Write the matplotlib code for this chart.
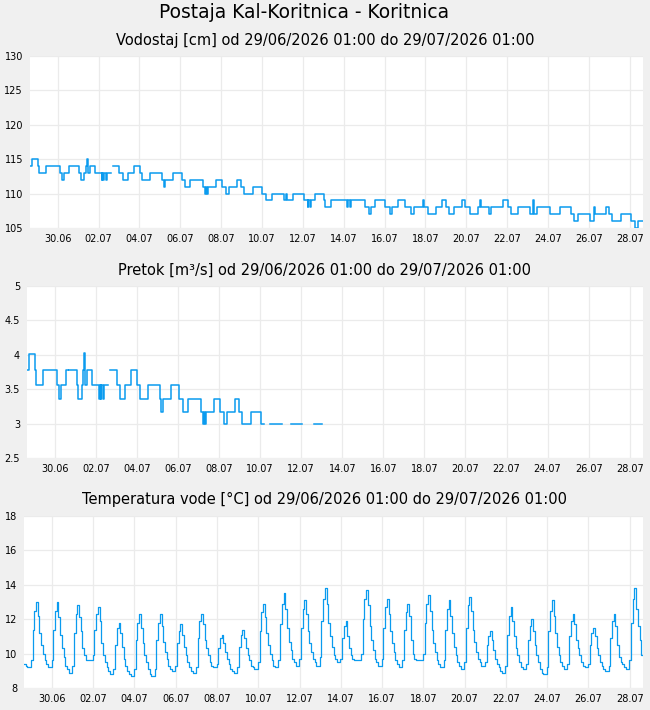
import numpy as np
import matplotlib
matplotlib.use("Agg")
import matplotlib.pyplot as plt

nan = np.nan

# hours since 29/06/2026 01:00 -> value, holds until the next change
vod_t = [0, 2, 9, 11, 19, 35, 37, 40, 46, 58,
         60, 64, 66, 67, 68, 70, 76, 84, 85, 86,
         87, 89, 90, 95, 97, 105, 109, 115, 122, 129,
         132, 141, 155, 157, 159, 168, 178, 182, 188, 203,
         206, 207, 208, 209, 218, 225, 230, 234, 243, 248,
         251, 262, 273, 277, 284, 298, 301, 302, 309, 322,
         326, 327, 329, 330, 335, 345, 347, 354, 372, 374,
         376, 377, 394, 398, 400, 405, 417, 423, 425, 432,
         441, 448, 451, 462, 463, 468, 477, 484, 489, 492,
         498, 507, 511, 517, 526, 529, 530, 539, 542, 555,
         561, 565, 573, 587, 591, 592, 595, 611, 623, 635,
         639, 644, 658, 663, 664, 677, 680, 684, 694, 706,
         711, 714, 720]
vod_v = [114, 115, 114, 113, 114, 113, 112, 113, 114, 113,
         112, 113, 114, 115, 113, 114, 113, 112, 113, 112,
         113, 112, 113, nan, 114, 113, 112, 113, 114, 113,
         112, 113, 112, 111, 112, 113, 112, 111, 112, 111,
         110, 111, 110, 111, 112, 111, 110, 111, 112, 111,
         110, 111, 110, 109, 110, 109, 110, 109, 110, 109,
         108, 109, 108, 109, 110, 109, 108, 109, 108, 109,
         108, 109, 108, 107, 108, 109, 108, 107, 108, 109,
         108, 107, 108, 109, 108, 107, 108, 109, 108, 107,
         108, 109, 108, 107, 108, 109, 108, 107, 108, 109,
         108, 107, 108, 107, 109, 107, 108, 107, 108, 107,
         106, 107, 106, 108, 107, 108, 107, 106, 107, 106,
         105, 106, 106]

pre_t = [0, 2, 9, 11, 19, 35, 37, 40, 46, 47.5,
         49, 58, 60, 64, 66, 67, 68, 70, 76, 84,
         85, 86, 87, 89, 90, 95, 97, 105, 109, 115,
         122, 129, 132, 141, 155, 157, 159, 168, 178, 182,
         188, 203, 206, 207, 208, 209, 218, 225, 230, 234,
         243, 248, 251, 262, 273, 277, 284, 298, 309, 322,
         335, 345]
pre_v = [3.78, 4.01, 3.78, 3.56, 3.78, 3.56, 3.36, 3.56, 3.78, nan,
         3.78, 3.56, 3.36, 3.56, 3.78, 4.02, 3.56, 3.78, 3.56, 3.36,
         3.56, 3.36, 3.56, 3.36, 3.56, nan, 3.78, 3.56, 3.36, 3.56,
         3.78, 3.56, 3.36, 3.56, 3.36, 3.17, 3.36, 3.56, 3.36, 3.17,
         3.36, 3.17, 2.99, 3.17, 2.99, 3.17, 3.36, 3.17, 2.99, 3.17,
         3.36, 3.17, 2.99, 3.17, 2.99, nan, 2.99, nan, 2.99, nan,
         2.99, nan]

# water temperature, one value every 2 hours, one row per day
temp = [
    9.4, 9.3, 9.2, 9.2, 9.6, 11.4, 12.5, 13.0, 12.2, 11.2, 10.5, 10.0,   # 29.06
    9.6, 9.4, 9.2, 9.2, 9.6, 11.4, 12.5, 13.0, 12.1, 11.1, 10.3, 9.8,    # 30.06
    9.3, 9.1, 8.9, 8.9, 9.3, 11.2, 12.3, 12.8, 12.1, 11.3, 10.3, 9.9,    # 01.07
    9.6, 9.6, 9.6, 9.6, 9.9, 11.4, 12.3, 12.7, 11.9, 10.6, 9.9, 9.5,     # 02.07
    9.2, 9.0, 8.8, 8.8, 9.1, 10.5, 11.5, 11.8, 11.2, 10.4, 9.7, 9.3,     # 03.07
    9.0, 8.8, 8.7, 8.7, 9.1, 10.8, 11.8, 12.3, 11.5, 10.6, 9.9, 9.5,     # 04.07
    9.1, 8.8, 8.7, 8.7, 9.1, 10.8, 11.8, 12.3, 11.6, 10.7, 10.1, 9.7,    # 05.07
    9.3, 9.1, 9.0, 9.0, 9.3, 10.6, 11.3, 11.7, 11.1, 10.4, 9.9, 9.5,     # 06.07
    9.2, 9.0, 8.9, 8.9, 9.2, 10.9, 11.9, 12.3, 11.7, 10.8, 10.3, 9.9,    # 07.07
    9.5, 9.3, 9.2, 9.2, 9.4, 10.3, 10.9, 11.1, 10.6, 10.1, 9.7, 9.4,     # 08.07
    9.1, 9.0, 8.9, 8.9, 9.2, 10.4, 11.1, 11.4, 10.9, 10.3, 9.9, 9.6,     # 09.07
    9.3, 9.2, 9.1, 9.1, 9.5, 11.3, 12.4, 12.9, 12.1, 11.2, 10.5, 10.0,   # 10.07
    9.6, 9.3, 9.2, 9.2, 9.6, 11.7, 12.9, 13.5, 12.6, 11.5, 10.7, 10.2,   # 11.07
    9.7, 9.5, 9.3, 9.3, 9.7, 11.5, 12.6, 13.1, 12.3, 11.3, 10.6, 10.1,   # 12.07
    9.7, 9.5, 9.3, 9.3, 9.8, 11.9, 13.2, 13.8, 12.9, 11.8, 11.0, 10.4,   # 13.07
    9.9, 9.7, 9.5, 9.5, 9.7, 10.9, 11.6, 11.9, 11.0, 10.3, 9.9, 9.7,     # 14.07
    9.6, 9.6, 9.6, 9.6, 10.0, 12.0, 13.2, 13.7, 12.8, 11.6, 10.8, 10.2,  # 15.07
    9.7, 9.5, 9.3, 9.3, 9.7, 11.5, 12.7, 13.2, 12.3, 11.3, 10.6, 10.1,   # 16.07
    9.6, 9.4, 9.2, 9.2, 9.6, 11.4, 12.4, 12.9, 12.2, 10.8, 10.0, 9.7,    # 17.07
    9.6, 9.6, 9.6, 9.6, 10.0, 11.8, 12.9, 13.4, 12.5, 11.4, 10.6, 10.1,  # 18.07
    9.6, 9.4, 9.2, 9.2, 9.6, 11.4, 12.6, 13.1, 12.2, 11.2, 10.4, 9.9,    # 19.07
    9.5, 9.3, 9.1, 9.1, 9.5, 11.5, 12.8, 13.3, 12.5, 11.4, 10.7, 10.1,   # 20.07
    9.7, 9.5, 9.3, 9.3, 9.5, 10.5, 11.0, 11.3, 10.8, 10.2, 9.7, 9.4,     # 21.07
    9.2, 9.0, 8.9, 8.9, 9.3, 11.1, 12.2, 12.7, 11.9, 11.0, 10.3, 9.9,    # 22.07
    9.5, 9.2, 9.1, 9.1, 9.4, 10.8, 11.6, 12.0, 11.3, 10.5, 9.9, 9.5,     # 23.07
    9.1, 8.9, 8.8, 8.8, 9.2, 11.3, 12.5, 13.1, 12.2, 11.2, 10.4, 9.9,    # 24.07
    9.5, 9.3, 9.1, 9.1, 9.4, 11.0, 11.9, 12.3, 11.7, 10.8, 10.3, 9.9,    # 25.07
    9.5, 9.3, 9.2, 9.2, 9.4, 10.5, 11.2, 11.5, 11.0, 10.3, 9.9, 9.5,     # 26.07
    9.3, 9.1, 9.0, 9.0, 9.3, 10.9, 11.9, 12.3, 11.6, 10.5, 9.8, 9.5,     # 27.07
    9.4, 9.2, 9.1, 9.1, 9.6, 11.8, 13.2, 13.8, 12.6, 11.6, 10.8, 9.9,    # 28.07
]

tick_labels = ["30.06", "02.07", "04.07", "06.07", "08.07", "10.07", "12.07", "14.07",
               "16.07", "18.07", "20.07", "22.07", "24.07", "26.07", "28.07"]

period = "od 29/06/2026 01:00 do 29/07/2026 01:00"
line_color = "#0a9bef"
grid_color = "#ebebeb"

fig = plt.figure(figsize=(6.5, 7.1), dpi=100, facecolor="#f0f0f0")


def style_axes(ax, ylim, yticks, ylabels):
    ax.set_facecolor("white")
    for s in ax.spines.values():
        s.set_visible(False)
    ax.set_xlim(0, 720)
    ax.set_ylim(*ylim)
    # first labelled gridline sits 32.5 h after the start, then every 2 days
    ax.set_xticks([32.5 + 48 * i for i in range(len(tick_labels))])
    ax.set_xticklabels(tick_labels)
    ax.set_yticks(yticks)
    ax.set_yticklabels(ylabels)
    ax.tick_params(length=0, labelsize=7, colors="black")
    ax.tick_params(axis="x", pad=4)
    ax.tick_params(axis="y", pad=5)
    ax.grid(True, color=grid_color, linewidth=0.9)
    ax.set_axisbelow(True)


# water level
ax1 = fig.add_axes([30 / 650, 1 - 228 / 710, 613 / 650, 172 / 710])
ax1.plot(vod_t, vod_v, drawstyle="steps-post", color=line_color, linewidth=1.1)
style_axes(ax1, (105, 130), [105, 110, 115, 120, 125, 130],
           ["105", "110", "115", "120", "125", "130"])

# discharge
ax2 = fig.add_axes([27 / 650, 1 - 458 / 710, 616 / 650, 172 / 710])
ax2.plot(pre_t, pre_v, drawstyle="steps-post", color=line_color, linewidth=1.1)
style_axes(ax2, (2.5, 5), [2.5, 3, 3.5, 4, 4.5, 5],
           ["2.5", "3", "3.5", "4", "4.5", "5"])

# water temperature
temp_t = list(np.arange(len(temp)) * 2) + [720]
temp_v = temp + [temp[-1]]
ax3 = fig.add_axes([24 / 650, 1 - 688 / 710, 619 / 650, 172 / 710])
ax3.plot(temp_t, temp_v, drawstyle="steps-post", color=line_color, linewidth=0.9)
style_axes(ax3, (8, 18), [8, 10, 12, 14, 16, 18],
           ["8", "10", "12", "14", "16", "18"])

fig.text(304 / 650, 1 - 13 / 710, "Postaja Kal-Koritnica - Koritnica",
         ha="center", va="center", fontsize=13.4)
fig.text(0.5, 1 - 40 / 710, "Vodostaj [cm] " + period, ha="center", va="center", fontsize=10.5)
fig.text(0.5, 1 - 270 / 710, "Pretok [m³/s] " + period, ha="center", va="center", fontsize=10.5)
fig.text(0.5, 1 - 499 / 710, "Temperatura vode [°C] " + period, ha="center", va="center", fontsize=10.5)

fig.savefig("out.png", dpi=100, facecolor=fig.get_facecolor())
